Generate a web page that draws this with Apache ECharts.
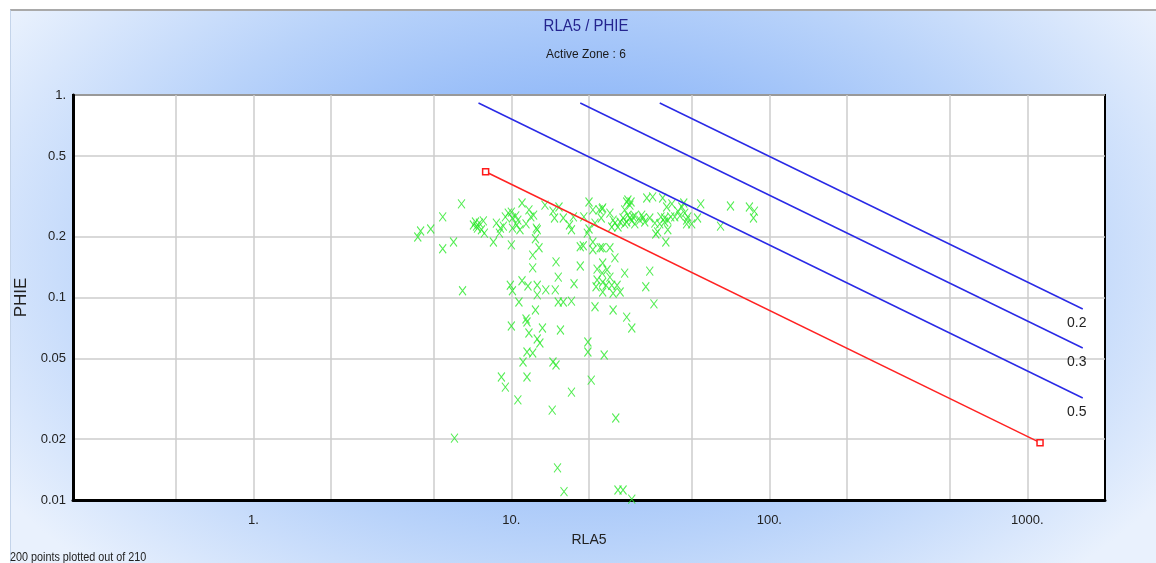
<!DOCTYPE html>
<html>
<head>
<meta charset="utf-8">
<title>RLA5 / PHIE</title>
<script src="https://cdn.jsdelivr.net/npm/echarts@6/dist/echarts.min.js"></script>
<style>
  html, body { margin: 0; padding: 0; background: #ffffff; }
  #wrap { position: relative; width: 1156px; height: 563px; overflow: hidden; background: #ffffff; }
  #panel {
    position: absolute; left: 10px; top: 9px; right: 0; bottom: 0;
    border-top: 2px solid #a9a9a9; border-left: 1px solid #c4d4ea;
    background: radial-gradient(ellipse 60% 80% at 50% 45%, #7caaf6 0%, #93baf8 35%, #b9d3fa 65%, #e9f1fd 100%);
  }
  #chart { position: absolute; left: 0; top: 0; width: 1156px; height: 563px; }
</style>
</head>
<body>
<div id="wrap">
  <div id="panel"></div>
  <div id="chart"></div>
</div>
<script>
// Crossplot of deep resistivity (RLA5) against effective porosity (PHIE), zone 6.
// Point groups are listed by area of the plot, RLA5 and PHIE in matching order.
const rla5 = [
  4.34, 4.45, 4.87, 5.42, 5.42, 5.97, 6.41, 6.47, 6.02,
  7.13, 7.26, 7.39, 7.52, 7.66, 7.79, 7.86, 7.33, 8.52, 8.75, 9.07, 9.31, 9.48, 8.99, 9.73, 10.0, 10.1, 10.4, 10.6, 10.1, 10.5, 10.8, 10.0, 11.0, 11.4, 11.7, 11.9, 12.2, 12.5, 12.6, 12.4, 12.8, 12.1,
  12.1, 9.91, 10.1, 11.0, 11.6, 12.6, 12.6, 10.7,
  13.5, 14.5, 15.3, 14.7, 15.9, 16.8, 17.1, 17.4, 19.1, 20.0, 20.0, 19.7, 20.7, 21.1, 22.5, 19.0, 20.7, 18.5, 20.7, 22.1,
  14.9, 15.2, 18.5, 17.5, 13.6, 14.8, 15.2, 15.9, 17.1, 21.5, 21.1,
  21.9, 22.6, 22.3, 24.1, 24.5, 25.2, 25.9, 24.8, 26.4, 27.1, 27.5, 27.5, 28.0, 28.3, 28.8, 29.1, 28.3, 28.0, 28.8, 29.3, 29.6, 30.1, 30.1, 31.5, 32.0, 32.4, 32.9, 33.5, 34.4, 35.3, 36.0, 36.3,
  22.5, 24.1, 25.2, 22.6, 22.5, 23.5, 24.1, 22.6, 21.5, 23.3, 24.5, 25.7, 27.5, 21.3, 22.6, 24.8, 26.4, 34.4, 33.2, 24.8, 28.0, 35.7, 29.3,
  12.4, 10.0, 11.4, 11.5, 11.7, 13.2, 12.6, 12.9, 15.5, 19.8, 19.8, 22.9, 11.5, 12.1, 11.1, 14.5, 14.9, 9.15, 9.48, 11.5, 20.4, 17.1, 10.6, 14.4, 25.4, 15.1, 16.0, 25.9, 27.1, 29.3,
  38.6, 38.0, 37.6, 39.3, 39.3, 40.4, 41.5, 40.4, 36.9, 39.7, 40.0, 41.9, 43.0, 44.2, 45.0, 45.8, 46.6, 47.0, 47.8, 47.8, 48.3, 50.0, 52.7, 54.2, 64.7, 70.7, 83.7, 87.5, 86.8
];
const phie = [
  0.199, 0.213, 0.218, 0.250, 0.174, 0.188, 0.290, 0.108, 0.0202,
  0.228, 0.236, 0.220, 0.233, 0.216, 0.239, 0.208, 0.225, 0.188, 0.233, 0.220, 0.225, 0.250, 0.208, 0.261, 0.264, 0.247, 0.253, 0.241, 0.220, 0.228, 0.216, 0.182, 0.293, 0.231, 0.271, 0.250, 0.255, 0.220, 0.216, 0.195, 0.176, 0.162,
  0.140, 0.115, 0.108, 0.121, 0.114, 0.115, 0.103, 0.095,
  0.286, 0.267, 0.280, 0.247, 0.247, 0.228, 0.216, 0.250, 0.250, 0.296, 0.218, 0.208, 0.271, 0.233, 0.274, 0.180, 0.188, 0.178, 0.172, 0.176,
  0.150, 0.126, 0.143, 0.117, 0.109, 0.109, 0.095, 0.095, 0.096, 0.138, 0.090,
  0.271, 0.277, 0.247, 0.261, 0.223, 0.233, 0.223, 0.241, 0.236, 0.247, 0.231, 0.271, 0.296, 0.303, 0.286, 0.296, 0.255, 0.236, 0.247, 0.239, 0.250, 0.231, 0.253, 0.241, 0.255, 0.247, 0.236, 0.310, 0.247, 0.314, 0.233, 0.206,
  0.176, 0.176, 0.157, 0.148, 0.132, 0.137, 0.126, 0.119, 0.122, 0.115, 0.115, 0.115, 0.132, 0.113, 0.1065, 0.105, 0.1065, 0.135, 0.113, 0.0867, 0.080, 0.093, 0.0707,
  0.0867, 0.0723, 0.0783, 0.0757, 0.0668, 0.0707, 0.0624, 0.0596, 0.0691, 0.0603, 0.0538, 0.052, 0.0538, 0.0532, 0.048, 0.048, 0.0464, 0.0405, 0.0361, 0.0405, 0.0391, 0.0341, 0.0312, 0.0278, 0.0254, 0.0144, 0.0110, 0.0112, 0.0112, 0.0101,
  0.310, 0.250, 0.231, 0.247, 0.236, 0.241, 0.250, 0.216, 0.211, 0.188, 0.280, 0.290, 0.250, 0.267, 0.253, 0.280, 0.293, 0.261, 0.241, 0.231, 0.250, 0.231, 0.247, 0.290, 0.225, 0.283, 0.280, 0.267, 0.247
];

// Water line (Sw = 1) end points, [RLA5, PHIE]
const waterLine = [[7.95, 0.418], [1120, 0.0192]];
// Saturation lines: label, start point, end point
const swLabels = ['0.2', '0.3', '0.5'];
const swStart = [[37.6, 0.913], [18.5, 0.913], [7.46, 0.913]];
const swEnd = [[1640, 0.0877], [1640, 0.0563], [1640, 0.0319]];

// Axis ticks and labels
const xGridValues = [0.5, 1, 2, 5, 10, 20, 50, 100, 200, 500, 1000];
const xLabelValues = [1, 10, 100, 1000];
const yTickValues = [0.01, 0.02, 0.05, 0.1, 0.2, 0.5, 1];

const FONT = "'Liberation Sans', Arial, sans-serif";
const fmt = v => {
  const n = +(+v).toPrecision(6);
  return Number.isInteger(n) ? n + '.' : String(n);
};

const points = rla5.map((x, i) => [x, phie[i]]);

const swSeries = swLabels.map((lab, i) => ({
  type: 'line',
  name: 'Sw ' + lab,
  data: [
    { value: swStart[i] },
    { value: swEnd[i], label: { show: true, formatter: lab, position: 'bottom', distance: 4, offset: [-6, 3],
      color: '#222', fontSize: 14, fontFamily: FONT } }
  ],
  showSymbol: true,
  symbol: 'circle',
  symbolSize: 0,
  lineStyle: { color: '#2a2ae6', width: 1.5 },
  silent: true,
  z: 3
}));

const chart = echarts.init(document.getElementById('chart'), null, { renderer: 'canvas' });
chart.setOption({
  animation: false,
  backgroundColor: 'transparent',
  grid: {
    left: 73, right: 51, top: 95, bottom: 63,
    show: true, backgroundColor: '#ffffff', borderColor: '#000000', borderWidth: 2
  },
  xAxis: {
    type: 'log', logBase: 10, min: 0.2, max: 2000,
    name: 'RLA5', nameLocation: 'middle', nameGap: 33,
    nameTextStyle: { color: '#222', fontSize: 14, fontFamily: FONT },
    axisLine: { show: true, onZero: false, lineStyle: { color: '#000', width: 3 } },
    axisTick: { show: false, customValues: xGridValues },
    axisLabel: { customValues: xLabelValues, formatter: fmt, color: '#222', fontSize: 13, fontFamily: FONT, margin: 14 },
    splitLine: { show: true, lineStyle: { color: '#cccccc', width: 1.5 } }
  },
  yAxis: {
    type: 'log', logBase: 10, min: 0.01, max: 1,
    name: 'PHIE', nameLocation: 'middle', nameGap: 37, nameRotate: 90,
    nameTextStyle: { color: '#222', fontSize: 17, fontFamily: FONT },
    axisLine: { show: true, onZero: false, lineStyle: { color: '#000', width: 3 } },
    axisTick: { show: false, customValues: yTickValues },
    axisLabel: { customValues: yTickValues, formatter: fmt, color: '#222', fontSize: 13, fontFamily: FONT, margin: 7 },
    splitLine: { show: true, lineStyle: { color: '#cccccc', width: 1.5 } }
  },
  graphic: [
    { type: 'text', x: 586, y: 26, scaleX: 0.88, silent: true,
      style: { text: 'RLA5 / PHIE', fill: '#24248f', align: 'center', verticalAlign: 'middle',
        font: "17px 'Liberation Sans', Arial, sans-serif" } },
    { type: 'text', x: 586, y: 54, scaleX: 0.92, silent: true,
      style: { text: 'Active Zone : 6', fill: '#1a1a1a', align: 'center', verticalAlign: 'middle',
        font: "13px 'Liberation Sans', Arial, sans-serif" } },
    { type: 'text', x: 10, y: 558, scaleX: 0.9, silent: true,
      style: { text: '200 points plotted out of 210', fill: '#222', verticalAlign: 'middle',
        font: "12px 'Liberation Sans', Arial, sans-serif" } }
  ],
  series: [
    {
      type: 'scatter',
      name: 'PHIE',
      data: points,
      symbol: 'path://M0,0L10,12M10,0L0,12',
      symbolSize: [7, 9],
      itemStyle: { color: 'rgba(0,0,0,0)', borderColor: '#2be82b', borderWidth: 1.1 },
      silent: true,
      z: 2
    },
    {
      type: 'line',
      name: 'Sw 1',
      data: waterLine,
      symbol: 'rect',
      symbolSize: 6,
      showSymbol: true,
      itemStyle: { color: '#ffffff', borderColor: '#ff1a1a', borderWidth: 1.5 },
      lineStyle: { color: '#ff2222', width: 1.5 },
      silent: true,
      z: 4
    },
    ...swSeries
  ]
});
</script>
</body>
</html>
